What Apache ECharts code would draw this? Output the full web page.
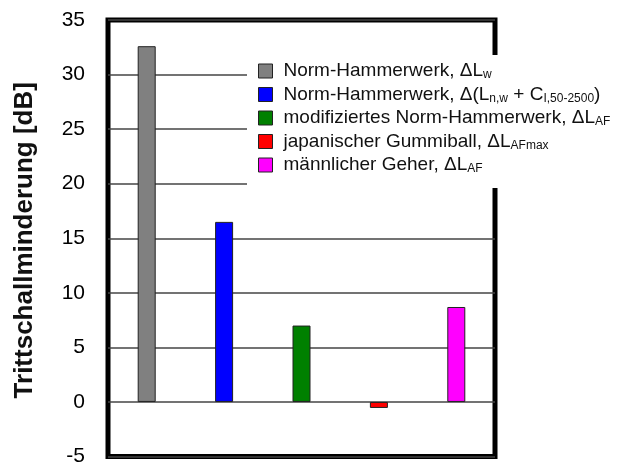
<!DOCTYPE html>
<html>
<head>
<meta charset="utf-8">
<script src="https://cdn.jsdelivr.net/npm/echarts@6/dist/echarts.min.js"></script>
<style>html,body{margin:0;padding:0;background:#fff}#c{width:629px;height:467px}</style>
</head>
<body>
<div id="c"></div>
<script>
const categories = ['1', '2', '3', '4', '5'];
const seriesNames = [
  'Norm-Hammerwerk, ΔL{sub|w}',
  'Norm-Hammerwerk, Δ(L{sub|n,w} + C{sub|I,50-2500})',
  'modifiziertes Norm-Hammerwerk, ΔL{sub|AF}',
  'japanischer Gummiball, ΔL{sub|AFmax}',
  'männlicher Geher, ΔL{sub|AF}'
];
const values = [32.6, 16.5, 7.0, -0.55, 8.7];
const colors = ['#808080', '#0000ff', '#008000', '#ff0000', '#ff00ff'];
const yTicks = { min: -5, max: 35, interval: 5 };
const yTitle = 'Trittschallminderung [dB]';

const series = seriesNames.map((name, i) => ({
  name: name,
  type: 'bar',
  barWidth: 18,
  barGap: '-100%',
  data: categories.map((c, j) => (j === i ? values[i] : '-')),
  itemStyle: { color: colors[i], borderColor: '#222', borderWidth: 1 }
}));

const chart = echarts.init(document.getElementById('c'), null, { renderer: 'canvas' });
chart.setOption({
  animation: false,
  backgroundColor: '#fff',
  grid: {
    left: 108, top: 20, width: 387, height: 437,
    show: true, borderColor: '#000', borderWidth: 5, backgroundColor: 'transparent'
  },
  xAxis: {
    type: 'category',
    data: categories,
    axisLine: { show: false },
    axisTick: { show: false },
    axisLabel: { show: false },
    splitLine: { show: false }
  },
  yAxis: {
    type: 'value',
    min: yTicks.min, max: yTicks.max, interval: yTicks.interval,
    name: yTitle,
    nameLocation: 'middle',
    nameGap: 70,
    nameTextStyle: { fontFamily: 'Liberation Sans', fontSize: 26, fontWeight: 'bold', color: '#111', padding: [0, 4, 0, 0] },
    axisLine: { show: false },
    axisTick: { show: false },
    axisLabel: { fontFamily: 'Liberation Sans', fontSize: 21, color: '#000', margin: 23 },
    splitLine: { show: true, lineStyle: { color: '#444', width: 1.5 } }
  },
  legend: {
    orient: 'vertical',
    left: 247, top: 55,
    backgroundColor: '#fff',
    padding: [6, 10, 13, 11],
    itemWidth: 14, itemHeight: 14, itemGap: 3.5,
    icon: 'rect',
    selectedMode: false,
    itemStyle: { borderColor: '#222', borderWidth: 1 },
    textStyle: {
      fontFamily: 'Liberation Sans', fontSize: 19, color: '#111', lineHeight: 20, padding: [0, 0, 0, 6],
      rich: {
        sub: { fontFamily: 'Liberation Sans', fontSize: 12, color: '#111', verticalAlign: 'bottom', lineHeight: 20, padding: [6, 0, 0, 0] }
      }
    },
    data: seriesNames
  },
  series: series
});
</script>
</body>
</html>
